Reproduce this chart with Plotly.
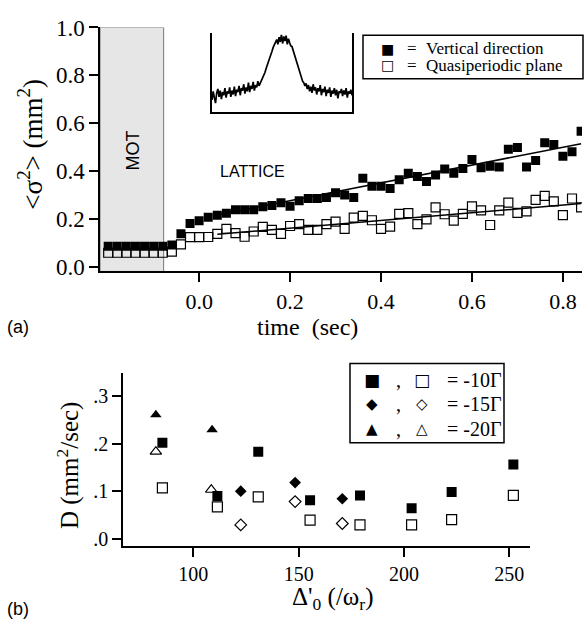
import plotly.graph_objects as go

# ---- panel (a): width^2 vs time ----
time_s = [-0.20, -0.18, -0.16, -0.14, -0.12, -0.10, -0.08,
          -0.06, -0.04, -0.02, 0.00, 0.02, 0.04, 0.06, 0.08, 0.10, 0.12,
          0.14, 0.16, 0.18, 0.20, 0.22, 0.24, 0.26, 0.28, 0.30, 0.32,
          0.34, 0.36, 0.38, 0.40, 0.42, 0.44, 0.46, 0.48, 0.50, 0.52,
          0.54, 0.56, 0.58, 0.60, 0.62, 0.64, 0.66, 0.68, 0.70, 0.72,
          0.74, 0.76, 0.78, 0.80, 0.82, 0.84]
vertical = [0.085, 0.085, 0.085, 0.085, 0.085, 0.085, 0.085,
            0.090, 0.137, 0.180, 0.192, 0.206, 0.215, 0.223, 0.238, 0.238, 0.238,
            0.250, 0.256, 0.267, 0.253, 0.275, 0.285, 0.285, 0.289, 0.309, 0.300,
            0.289, 0.370, 0.336, 0.336, 0.327, 0.363, 0.390, 0.377, 0.356, 0.383,
            0.408, 0.390, 0.410, 0.448, 0.413, 0.420, 0.417, 0.491, 0.498, 0.417,
            0.444, 0.518, 0.511, 0.462, 0.480, 0.566]
quasi = [0.058, 0.058, 0.058, 0.058, 0.058, 0.058, 0.058,
         0.063, 0.093, 0.123, 0.123, 0.124, 0.137, 0.158, 0.140, 0.125, 0.147,
         0.166, 0.154, 0.137, 0.170, 0.178, 0.154, 0.154, 0.178, 0.188, 0.158,
         0.205, 0.212, 0.194, 0.158, 0.167, 0.221, 0.224, 0.178, 0.198, 0.248,
         0.219, 0.192, 0.221, 0.252, 0.235, 0.174, 0.235, 0.268, 0.225, 0.231,
         0.279, 0.296, 0.273, 0.215, 0.285, 0.248]
fit_t = [0.04, 0.84]
fit_vertical = [0.216, 0.514]
fit_quasi = [0.135, 0.264]
mot_end = -0.078

# inset: noisy profile (relative units)
profile = [0.15, 0.26, 0.18, 0.11, 0.24, 0.29, 0.19, 0.27, 0.16, 0.25, 0.21, 0.30, 0.18, 0.26,
           0.23, 0.31, 0.19, 0.27, 0.22, 0.32, 0.20, 0.28, 0.25, 0.33, 0.21, 0.30, 0.27, 0.35,
           0.23, 0.31, 0.26, 0.37, 0.25, 0.33, 0.29, 0.38, 0.27, 0.34, 0.31, 0.39, 0.33,
           0.36, 0.40, 0.43, 0.46, 0.50, 0.55, 0.59, 0.64, 0.68, 0.73, 0.77, 0.82, 0.85, 0.88,
           0.92, 0.86, 0.95, 0.89, 0.98, 0.87, 0.96, 0.90, 0.97, 0.86, 0.93, 0.88, 0.84,
           0.83, 0.78, 0.74, 0.68, 0.64, 0.57, 0.53, 0.47, 0.43, 0.39, 0.37, 0.33, 0.36,
           0.29, 0.34, 0.26, 0.32, 0.24, 0.35, 0.27, 0.31, 0.22, 0.30, 0.26, 0.34, 0.21, 0.29,
           0.25, 0.32, 0.20, 0.28, 0.24, 0.31, 0.19, 0.27, 0.23, 0.30, 0.21, 0.28, 0.17, 0.26,
           0.24, 0.29, 0.20, 0.27, 0.22, 0.30, 0.18, 0.26, 0.23, 0.28, 0.21]

# ---- panel (b): D vs detuning ----
det_10 = [85.3, 111.4, 130.8, 155.4, 179.1, 203.6, 222.6, 251.9]
D_10_vert = [0.202, 0.090, 0.183, 0.081, 0.091, 0.064, 0.098, 0.156]
D_10_quasi = [0.107, 0.067, 0.088, 0.039, 0.029, 0.029, 0.040, 0.091]
det_15 = [122.5, 148.3, 170.7]
D_15_vert = [0.100, 0.118, 0.084]
D_15_quasi = [0.029, 0.078, 0.032]
det_20_vert = [82.2, 108.9]
D_20_vert = [0.261, 0.229]
det_20_quasi = [82.2, 108.5]
D_20_quasi = [0.183, 0.103]

W, H = 586, 628
SERIF = "Liberation Serif"
SANS = "Liberation Sans"


def px(x):
    return x / W


def py(y):
    return 1 - y / H


fig = go.Figure()

# panel (a)
fig.add_trace(go.Scatter(x=fit_t, y=fit_vertical, mode='lines', line=dict(color='black', width=1.5),
                         xaxis='x', yaxis='y'))
fig.add_trace(go.Scatter(x=fit_t, y=fit_quasi, mode='lines', line=dict(color='black', width=1.5),
                         xaxis='x', yaxis='y'))
fig.add_trace(go.Scatter(x=time_s, y=vertical, mode='markers',
                         marker=dict(symbol='square', size=9, color='black', line=dict(width=0)),
                         xaxis='x', yaxis='y'))
fig.add_trace(go.Scatter(x=time_s, y=quasi, mode='markers',
                         marker=dict(symbol='square-open', size=9, color='black', line=dict(width=1.2)),
                         xaxis='x', yaxis='y'))

# inset
fig.add_trace(go.Scatter(x=list(range(len(profile))), y=profile, mode='lines',
                         line=dict(color='black', width=1.7), xaxis='x3', yaxis='y3'))

# panel (b)
def add_b(x, y, symbol, size, lw=0):
    fig.add_trace(go.Scatter(x=x, y=y, mode='markers',
                             marker=dict(symbol=symbol, size=size, color='black', line=dict(width=lw, color='black')),
                             xaxis='x2', yaxis='y2'))


add_b(det_10, D_10_vert, 'square', 10)
add_b(det_10, D_10_quasi, 'square-open', 10, 1.2)
add_b(det_15, D_15_vert, 'diamond', 9)
add_b(det_15, D_15_quasi, 'diamond-open', 9, 1.2)
add_b(det_20_vert, D_20_vert, 'triangle-up', 10)
add_b(det_20_quasi, D_20_quasi, 'triangle-up-open', 10, 1.2)

axis_common = dict(showline=True, linecolor='black', linewidth=1.5, ticks='outside',
                   ticklen=9, tickwidth=1.5, tickcolor='black', showgrid=False, zeroline=False,
                   tickfont=dict(family=SERIF, size=22, color='black'))
small_ticks = {**axis_common, 'tickfont': dict(family=SERIF, size=20, color='black')}

fig.update_layout(
    width=W, height=H,
    margin=dict(l=0, r=0, t=0, b=0),
    plot_bgcolor='white', paper_bgcolor='white',
    showlegend=False,
    xaxis=dict(domain=[px(100), px(582)], range=[-0.218, 0.842], anchor='y',
               tickvals=[0, 0.2, 0.4, 0.6, 0.8], ticktext=['0.0', '0.2', '0.4', '0.6', '0.8'],
               **axis_common),
    yaxis=dict(domain=[py(268), py(16)], range=[-0.0202, 1.0], anchor='x',
               tickvals=[0, 0.2, 0.4, 0.6, 0.8, 1.0],
               ticktext=['0.0', '0.2', '0.4', '0.6', '0.8', '1.0'],
               **{**axis_common, 'tickfont': dict(family=SERIF, size=23, color='black')}),
    xaxis2=dict(domain=[px(123), px(530)], range=[66.6, 259.8], anchor='y2',
                tickvals=[100, 150, 200, 250], **small_ticks),
    yaxis2=dict(domain=[py(551.7), py(372.7)], range=[-0.0157, 0.349], anchor='x2',
                tickvals=[0, 0.1, 0.2, 0.3], ticktext=['.0', '.1', '.2', '.3'], **small_ticks),
    xaxis3=dict(domain=[px(212), px(352)], range=[0, len(profile) - 1], anchor='y3',
                showline=True, linecolor='black', linewidth=1.5, showticklabels=False,
                ticks='', showgrid=False, zeroline=False),
    yaxis3=dict(domain=[py(103), py(22)], range=[0, 1], anchor='x3',
                showline=True, mirror=True, linecolor='black', linewidth=1.5,
                showticklabels=False, ticks='', showgrid=False, zeroline=False),
)

# MOT shaded region
fig.add_shape(type='rect', xref='x', yref='y', x0=-0.218, x1=mot_end, y0=-0.0202, y1=1.0,
              fillcolor='#e6e6e6', line=dict(color='#777777', width=1), layer='below')

# legend boxes
fig.add_shape(type='rect', xref='paper', yref='paper', x0=px(363), x1=px(583), y0=py(69), y1=py(24),
              line=dict(color='black', width=1.5), fillcolor='white')
fig.add_shape(type='rect', xref='paper', yref='paper', x0=px(350), x1=px(504), y0=py(445), y1=py(363),
              line=dict(color='black', width=1.5), fillcolor='white')


def note(text, x, y, size, family=SERIF, angle=0, xanchor='center'):
    fig.add_annotation(text=text, x=px(x), y=py(y), xref='paper', yref='paper', showarrow=False,
                       textangle=angle, xanchor=xanchor, yanchor='middle', borderpad=0,
                       font=dict(family=family, size=size, color='black'))


# panel (a) text
note('MOT', 133, 143, 18, SANS, -90)
note('LATTICE', 252, 165, 16, SANS)
note('time  (sec)', 307, 325, 24)
note('&lt;σ<sup>2</sup>&gt; (mm<sup>2</sup>)', 30, 137, 27, angle=-90)
note('(a)', 18, 325, 18, SANS)
note('■', 387, 38, 14, 'DejaVu Sans')
note('□', 387, 55, 14, 'DejaVu Sans')
note('=', 412, 38, 17)
note('=', 412, 55, 17)
note('Vertical direction', 425, 38, 17, xanchor='left')
note('Quasiperiodic plane', 425, 55, 17, xanchor='left')

# panel (b) text
note('D (mm<sup>2</sup>/sec)', 68, 469, 25, angle=-90)
note("Δ'<sub>0</sub> (/ω<sub>r</sub>)", 332, 606, 25)
note('(b)', 18, 617, 18, SANS)
rows = [(380, '■', '□', '= -10Γ', 17), (405, '◆', '◇', '= -15Γ', 15), (431, '▲', '△', '= -20Γ', 15)]
for yy, full, empty, label, gs in rows:
    note(full, 372, yy, gs, 'DejaVu Sans')
    note(',', 398, yy, 20)
    note(empty, 422, yy, gs, 'DejaVu Sans')
    note(label, 446, yy, 20, xanchor='left')

# drop the default page margin so the 586x628 figure fills the window
fig.write_html("out.html", config={'displayModeBar': False},
               post_script="document.body.style.margin='0';")
